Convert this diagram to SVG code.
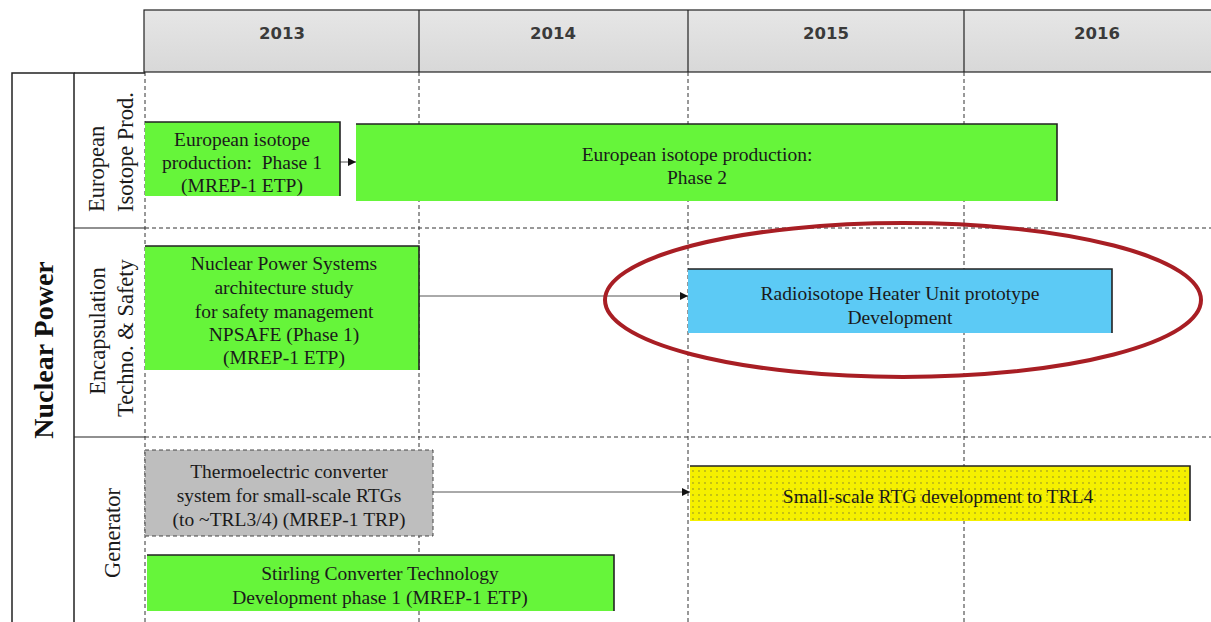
<svg xmlns="http://www.w3.org/2000/svg" width="1211" height="622" viewBox="0 0 1211 622">
<style>
.yr{font-family:"DejaVu Sans","Open Sans",sans-serif;font-weight:bold;font-size:16.5px;fill:#3a3a3a;text-anchor:middle}
.t{font-family:"Liberation Serif","Times New Roman",serif;font-size:19.5px;fill:#1a1a1a;text-anchor:middle}
.lab{font-family:"Liberation Serif","Times New Roman",serif;font-size:22.5px;fill:#1a1a1a;text-anchor:middle}
.dash{stroke:#333;stroke-width:1;stroke-dasharray:4,3;fill:none}
.green{fill:#66f53a}
.edge{stroke:#222;stroke-width:1.6;fill:none}
.conn{stroke:#555;stroke-width:1;fill:none}
</style>
<defs>
<marker id="ah" viewBox="0 0 10 10" refX="10" refY="5" markerWidth="8" markerHeight="8" markerUnits="userSpaceOnUse" orient="auto">
<path d="M0,0 L10,5 L0,10 z" fill="#111"/>
</marker>
<pattern id="dots" width="6" height="6" patternUnits="userSpaceOnUse">
<rect width="6" height="6" fill="#f5f000"/>
<circle cx="3" cy="3" r="0.65" fill="#6b6b3a"/>
</pattern>
<linearGradient id="hg" x1="0" y1="0" x2="0" y2="1">
<stop offset="0" stop-color="#e6e6e6"/><stop offset="1" stop-color="#d8d8d8"/>
</linearGradient>
</defs>
<rect width="1211" height="622" fill="#fff"/>

<g id="header">
<rect x="144" y="10" width="1070" height="62" fill="url(#hg)" stroke="#222" stroke-width="1.2"/>
<line x1="419" y1="10" x2="419" y2="72" stroke="#222" stroke-width="1.2"/>
<line x1="688" y1="10" x2="688" y2="72" stroke="#222" stroke-width="1.2"/>
<line x1="964" y1="10" x2="964" y2="72" stroke="#222" stroke-width="1.2"/>
<text class="yr" x="282" y="39">2013</text>
<text class="yr" x="553" y="39">2014</text>
<text class="yr" x="826" y="39">2015</text>
<text class="yr" x="1097" y="39">2016</text>
</g>

<g id="grid">
<line class="dash" x1="145" y1="228" x2="1211" y2="228"/>
<line class="dash" x1="145" y1="437" x2="1211" y2="437"/>
<line class="dash" x1="145" y1="72" x2="145" y2="622"/>
<line class="dash" x1="419" y1="72" x2="419" y2="622"/>
<line class="dash" x1="688" y1="72" x2="688" y2="622"/>
<line class="dash" x1="964" y1="72" x2="964" y2="622"/>
</g>

<g id="nuclear-power">
<rect x="12" y="73" width="62" height="560" fill="#fff" stroke="#222" stroke-width="1.5"/>
<text x="53" y="350" transform="rotate(-90 53 350)" font-family="Liberation Serif,serif" font-weight="bold" font-size="28" fill="#111" text-anchor="middle">Nuclear Power</text>
</g>

<g id="sublabels">
<line x1="74" y1="73" x2="145" y2="73" stroke="#222" stroke-width="1.5"/>
<line x1="74" y1="228" x2="145" y2="228" stroke="#222" stroke-width="1.2"/>
<line x1="74" y1="437" x2="145" y2="437" stroke="#222" stroke-width="1.2"/>
</g>
<g id="label-european">
<text class="lab" style="text-anchor:start" transform="rotate(-90 104 212)" x="104" y="212">European</text>
<text class="lab" style="text-anchor:start" transform="rotate(-90 133 212)" x="133" y="212">Isotope Prod.</text>
</g>
<g id="label-encapsulation">
<text class="lab" transform="rotate(-90 105 331)" x="105" y="331">Encapsulation</text>
<text class="lab" transform="rotate(-90 133 338)" x="133" y="338">Techno. &amp; Safety</text>
</g>
<g id="label-generator">
<text class="lab" transform="rotate(-90 120 533)" x="120" y="533">Generator</text>
</g>

<g id="connectors">
<line class="conn" x1="340" y1="162" x2="356" y2="162" stroke="#111" marker-end="url(#ah)"/>
<line class="conn" x1="419" y1="296" x2="688" y2="296" marker-end="url(#ah)"/>
<line class="conn" x1="433" y1="492" x2="690" y2="492" marker-end="url(#ah)"/>
</g>

<g id="eip-phase1">
<rect class="green" x="145" y="122" width="195" height="74"/>
<path class="edge" d="M145,122 H340 V196"/>
<text class="t" x="242" y="146">European isotope</text>
<text class="t" x="242" y="169" xml:space="preserve">production:  Phase 1</text>
<text class="t" x="242" y="192">(MREP-1 ETP)</text>
</g>

<g id="eip-phase2">
<rect class="green" x="356" y="124" width="701" height="77"/>
<path class="edge" d="M356,124 H1057 V201"/>
<text class="t" x="697" y="161">European isotope production:</text>
<text class="t" x="697" y="184">Phase 2</text>
</g>

<g id="npsafe">
<rect class="green" x="145" y="246" width="274" height="124"/>
<path class="edge" d="M145,246 H419 V370"/>
<text class="t" x="284" y="270">Nuclear Power Systems</text>
<text class="t" x="284" y="294">architecture study</text>
<text class="t" x="284" y="318">for safety management</text>
<text class="t" x="284" y="341">NPSAFE (Phase 1)</text>
<text class="t" x="284" y="364">(MREP-1 ETP)</text>
</g>

<g id="rhu">
<rect x="688" y="269" width="424" height="64" fill="#5ccaf5"/>
<path class="edge" d="M688,269 H1112 V333"/>
<text class="t" x="900" y="300">Radioisotope Heater Unit prototype</text>
<text class="t" x="900" y="324">Development</text>
</g>

<g id="highlight">
<ellipse cx="903" cy="300" rx="298" ry="77" fill="none" stroke="#a81e24" stroke-width="4"/>
</g>

<g id="thermoelectric">
<rect x="145" y="450" width="288" height="86" fill="#bebebe" stroke="#444" stroke-width="1" stroke-dasharray="4,3"/>
<text class="t" x="289" y="478">Thermoelectric converter</text>
<text class="t" x="289" y="502">system for small-scale RTGs</text>
<text class="t" x="289" y="526">(to ~TRL3/4) (MREP-1 TRP)</text>
</g>

<g id="rtg-trl4">
<rect x="690" y="466" width="500" height="55" fill="url(#dots)"/>
<path class="edge" d="M690,466 H1190 V521"/>
<text class="t" x="938" y="503">Small-scale RTG development to TRL4</text>
</g>

<g id="stirling">
<rect class="green" x="147" y="555" width="467" height="56"/>
<path class="edge" d="M147,555 H614 V611"/>
<text class="t" x="380" y="580">Stirling Converter Technology</text>
<text class="t" x="380" y="604">Development phase 1 (MREP-1 ETP)</text>
</g>
</svg>
